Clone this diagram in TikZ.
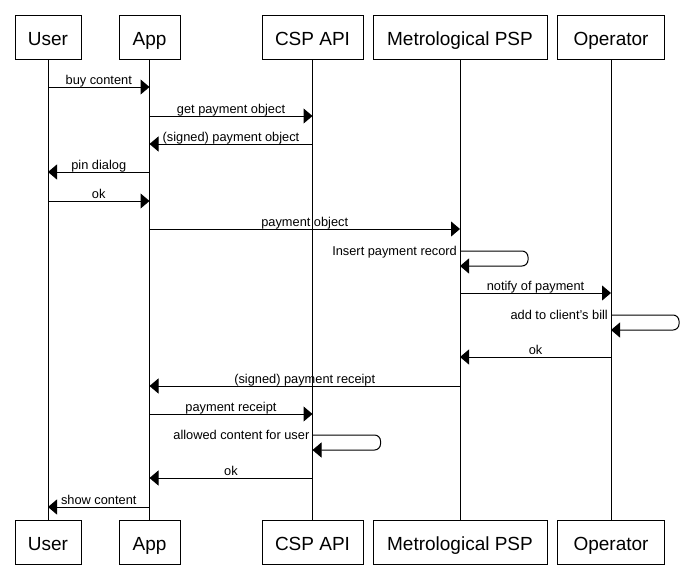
\documentclass[tikz,border=0pt]{standalone}
\usepackage{fontspec}
\setmainfont{Liberation Sans}
\usetikzlibrary{arrows.meta}

\tikzstyle{aS}=[draw, line width=1pt, minimum height=44pt, inner sep=0pt, text height=19pt, text depth=2pt, font=\fontsize{19}{22}\selectfont]
\tikzstyle{lS}=[line width=1pt]
\tikzstyle{mS}=[line width=1pt, -{Triangle[length=9pt,width=15pt]}]
\tikzstyle{sS}=[line width=1pt, rounded corners=6pt, -{Triangle[length=9pt,width=15pt]}]
\tikzstyle{mNS}=[anchor=base, yshift=3pt, inner sep=0pt, font=\fontsize{12.8}{15}\selectfont]
\tikzstyle{sNS}=[anchor=base east, xshift=-3pt, yshift=-4.5pt, inner sep=0pt, font=\fontsize{12.8}{15}\selectfont]

\begin{document}
\begin{tikzpicture}[x=1pt, y=-1pt]
    \useasboundingbox (0,0) rectangle (687,568);
    % actors, top and bottom
    \draw (48,37) node[aS, minimum width=66pt] (tUser) {User};
    \draw (149.5,37) node[aS, minimum width=61pt] (tApp) {App};
    \draw (312.5,37) node[aS, minimum width=101pt] (tCsp) {CSP API};
    \draw (460,37) node[aS, minimum width=174pt] (tPsp) {Metrological PSP};
    \draw (611,37) node[aS, minimum width=107pt] (tOp) {Operator};
    \draw (48,542) node[aS, minimum width=66pt] (bUser) {User};
    \draw (149.5,542) node[aS, minimum width=61pt] (bApp) {App};
    \draw (312.5,542) node[aS, minimum width=101pt] (bCsp) {CSP API};
    \draw (460,542) node[aS, minimum width=174pt] (bPsp) {Metrological PSP};
    \draw (611,542) node[aS, minimum width=107pt] (bOp) {Operator};

    % lifelines
    \path
        (tUser) edge[lS] (bUser)
        (tApp) edge[lS] (bApp)
        (tCsp) edge[lS] (bCsp)
        (tPsp) edge[lS] (bPsp)
        (tOp) edge[lS] (bOp)
    ;

    % message rows
    \coordinate (r1) at (0,87);
    \coordinate (r2) at (0,116);
    \coordinate (r3) at (0,144);
    \coordinate (r4) at (0,172);
    \coordinate (r5) at (0,201);
    \coordinate (r6) at (0,229);
    \coordinate (s1a) at (0,251);
    \coordinate (s1b) at (0,266);
    \coordinate (r7) at (0,293);
    \coordinate (s2a) at (0,315);
    \coordinate (s2b) at (0,330);
    \coordinate (r8) at (0,357);
    \coordinate (r9) at (0,386);
    \coordinate (r10) at (0,414);
    \coordinate (s3a) at (0,435);
    \coordinate (s3b) at (0,450);
    \coordinate (r11) at (0,478);
    \coordinate (r12) at (0,507);

    \path
        (tUser |- r1) edge[mS] node[mNS]{buy content} (tApp |- r1)
        (tApp |- r2) edge[mS] node[mNS]{get payment object} (tCsp |- r2)
        (tCsp |- r3) edge[mS] node[mNS]{(signed) payment object} (tApp |- r3)
        (tApp |- r4) edge[mS] node[mNS]{pin dialog} (tUser |- r4)
        (tUser |- r5) edge[mS] node[mNS]{ok} (tApp |- r5)
        (tApp |- r6) edge[mS] node[mNS]{payment object} (tPsp |- r6)
        (tPsp |- r7) edge[mS] node[mNS]{notify of payment} (tOp |- r7)
        (tOp |- r8) edge[mS] node[mNS]{ok} (tPsp |- r8)
        (tPsp |- r9) edge[mS] node[mNS]{(signed) payment receipt} (tApp |- r9)
        (tApp |- r10) edge[mS] node[mNS]{payment receipt} (tCsp |- r10)
        (tCsp |- r11) edge[mS] node[mNS]{ok} (tApp |- r11)
        (tApp |- r12) edge[mS] node[mNS]{show content} (tUser |- r12)
    ;

    % self messages
    \draw[sS] (tPsp |- s1a) -- ++(68,0) |- (tPsp |- s1b);
    \draw (tPsp |- s1a) node[sNS] (lS1) {Insert payment record};
    \draw[sS] (tOp |- s2a) -- ++(68,0) |- (tOp |- s2b);
    \draw (tOp |- s2a) node[sNS] (lS2) {add to client's bill};
    \draw[sS] (tCsp |- s3a) -- ++(68,0) |- (tCsp |- s3b);
    \draw (tCsp |- s3a) node[sNS] (lS3) {allowed content for user};
\end{tikzpicture}
\end{document}
